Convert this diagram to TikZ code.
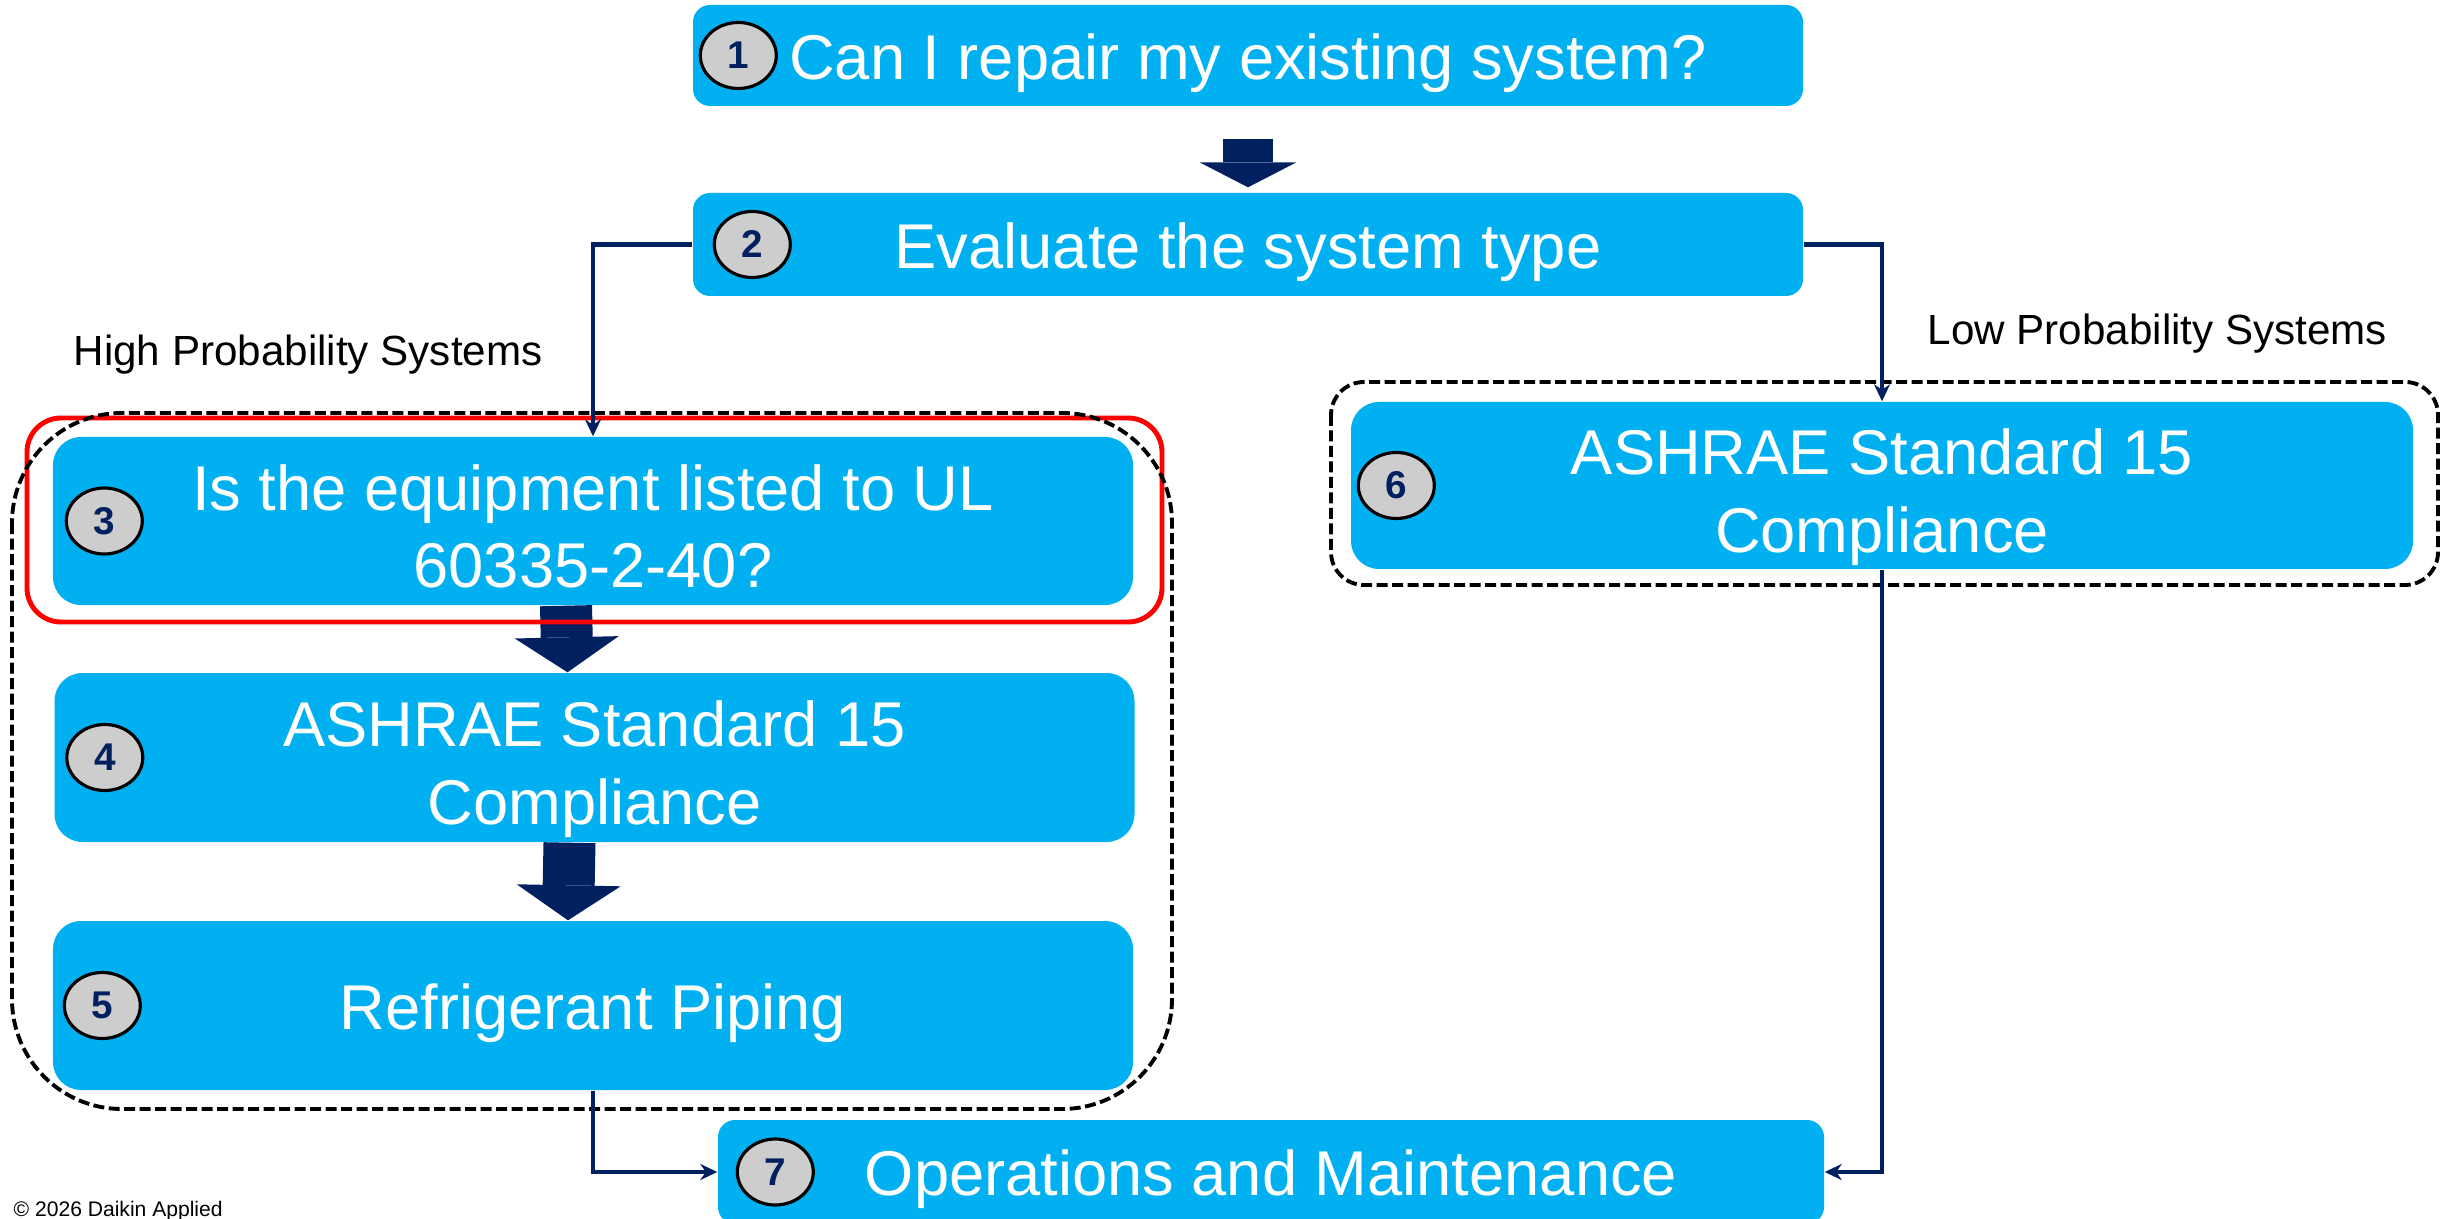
\documentclass[tikz,border=0pt]{standalone}
\usepackage{fontspec}
\setmainfont{Liberation Sans}
\usetikzlibrary{arrows.meta,shapes.geometric}
\definecolor{boxblue}{HTML}{00B0F0}
\definecolor{navy}{HTML}{002060}
\definecolor{numgray}{HTML}{CDCDCD}
\newcommand{\firstline}{\rule{0pt}{20pt}}
\newcommand{\lastline}{\rule[-4pt]{0pt}{4pt}}

\begin{document}
\begin{tikzpicture}
        \tikzstyle{every node}=[inner sep=0pt]
        \tikzstyle{box}=[fill=boxblue, rounded corners=0.17cm, text=white, align=center, font=\fontsize{18}{22}\selectfont]
        \tikzstyle{oneline}=[text height=17.4pt, text depth=4pt]
        \tikzstyle{twoline}=[rounded corners=0.28cm]
        \tikzstyle{num}=[ellipse, draw=black, line width=0.9pt, fill=numgray, minimum width=0.76cm, minimum height=0.66cm, text=navy, font=\fontsize{11}{13}\selectfont\bfseries]
        \tikzstyle{link}=[navy, line width=1.3pt, -{Stealth[length=0.17cm,width=0.16cm]}]
        \tikzstyle{bigarrow}=[navy, line width=0.52cm, -{Triangle[length=0.35cm,width=1.04cm,line width=0pt]}]
        \tikzstyle{group}=[black, line width=1.1pt, dash pattern=on 0.11cm off 0.045cm]
        \useasboundingbox (0,0) rectangle (24.43,-12.19);
        % boxes
        \node [box, oneline, minimum width=11.10cm, minimum height=1.01cm] (box1) at (12.48,-0.555) {Can I repair my existing system?};
        \node [box, oneline, minimum width=11.10cm, minimum height=1.03cm] (box2) at (12.48,-2.445) {Evaluate the system type};
        \node [box, twoline, minimum width=10.80cm, minimum height=1.68cm] (box3) at (5.93,-5.21) {\firstline Is the equipment listed to UL\\60335-2-40?\lastline};
        \node [box, twoline, minimum width=10.80cm, minimum height=1.69cm] (box4) at (5.945,-7.575) {\firstline ASHRAE Standard 15\\Compliance\lastline};
        \node [box, oneline, twoline, minimum width=10.80cm, minimum height=1.69cm] (box5) at (5.93,-10.055) {Refrigerant Piping};
        \node [box, twoline, minimum width=10.62cm, minimum height=1.67cm] (box6) at (18.82,-4.855) {\firstline ASHRAE Standard 15\\Compliance\lastline};
        \node [box, oneline, minimum width=11.06cm, minimum height=1.04cm] (box7) at (12.71,-11.72) {Operations and Maintenance};
        % step numbers
        \node [num] (num1) at ([xshift=0.46cm]box1.west) {1};
        \node [num] (num2) at ([xshift=0.60cm]box2.west) {2};
        \node [num] (num3) at ([xshift=0.52cm]box3.west) {3};
        \node [num] (num4) at ([xshift=0.51cm]box4.west) {4};
        \node [num] (num5) at ([xshift=0.50cm]box5.west) {5};
        \node [num] (num6) at ([xshift=0.46cm]box6.west) {6};
        \node [num] (num7) at ([xshift=0.58cm]box7.west) {7};
        % block arrows
        \draw [bigarrow, -{Triangle[length=0.25cm,width=0.97cm,line width=0pt]}, line width=0.50cm, shorten <=0.32cm, shorten >=0.05cm] (box1.south) -- (box2.north);
        \draw [bigarrow] ([xshift=-0.27cm]box3.south) -- ([xshift=-0.27cm]box4.north);
        \draw [bigarrow] ([xshift=-0.25cm]box4.south) -- ([xshift=-0.25cm]box5.north);
        % frames
        \draw [red, line width=1.4pt, rounded corners=0.34cm] (0.27,-4.18) rectangle (11.62,-6.22);
        \draw [group, rounded corners=1.1cm] (0.12,-4.13) rectangle (11.72,-11.09);
        \draw [group, rounded corners=0.33cm] (13.31,-3.82) rectangle (24.38,-5.85);
        % connectors
        \draw [link] (box2.west) -| (box3.north);
        \draw [link] (box2.east) -| (box6.north);
        \draw [link] (box5.south) |- (box7.west);
        \draw [link] (box6.south) |- (box7.east);
        % labels
        \node [anchor=base west, font=\fontsize{12}{14}\selectfont] (high) at (0.73,-3.66) {High Probability Systems};
        \node [anchor=base west, font=\fontsize{12}{14}\selectfont] (low) at (19.27,-3.45) {Low Probability Systems};
        \node [anchor=base west, font=\fontsize{6}{7}\selectfont] (copy) at (0.13,-12.16) {© 2026 Daikin Applied};
\end{tikzpicture}
\end{document}
